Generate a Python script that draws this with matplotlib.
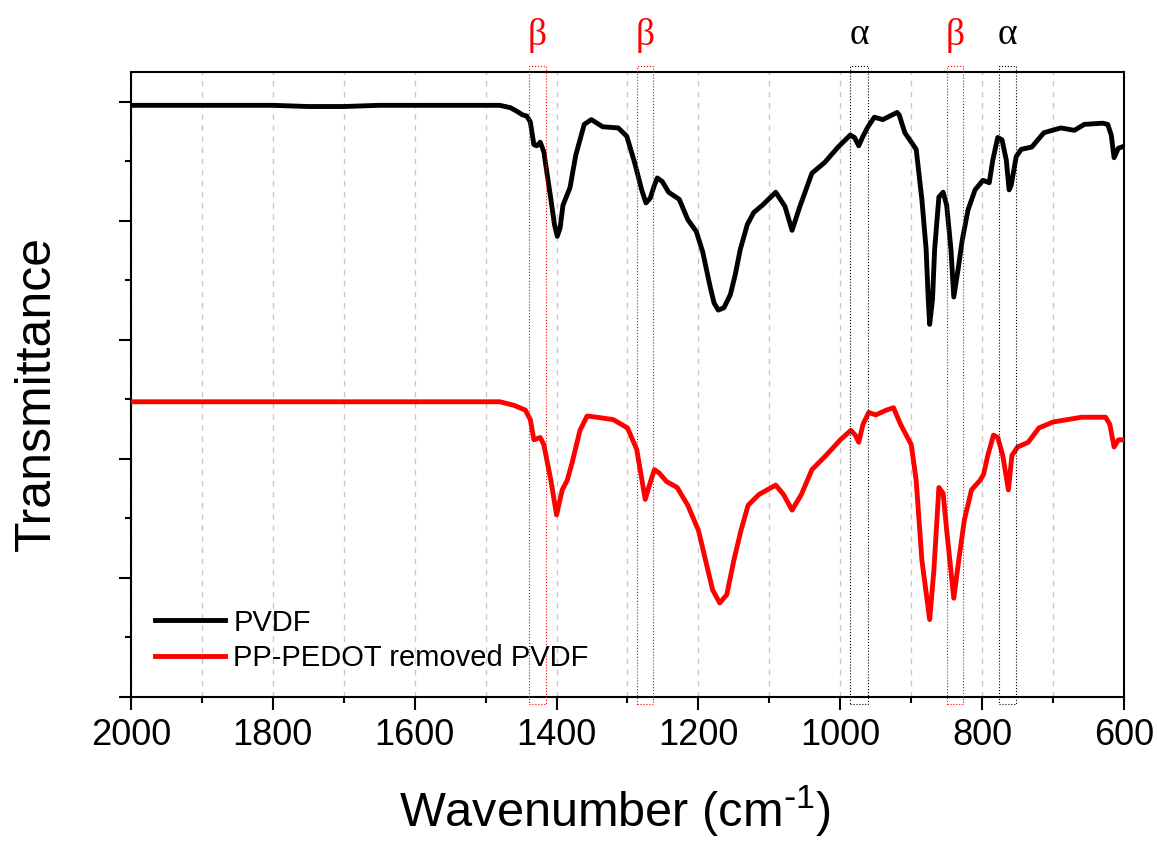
import matplotlib
matplotlib.use('Agg')
import matplotlib.pyplot as plt
import matplotlib.transforms as mtransforms
from matplotlib.patches import Rectangle

plt.rcParams['font.family'] = ['Liberation Sans', 'DejaVu Sans']
plt.rcParams['mathtext.default'] = 'regular'

#---------------------------------------------------------------
## Datos leidos del espectro (transmitancia en unidades arbitrarias)
wn_pvdf = [2000, 1900, 1800, 1750, 1700, 1650, 1600, 1550, 1500, 1480, 1465, 1456,
           1448, 1442, 1437, 1432, 1428, 1423, 1418, 1408, 1403, 1399, 1395, 1391,
           1381, 1373, 1361, 1351, 1335, 1313, 1301, 1290, 1280, 1274, 1268, 1262,
           1258, 1251, 1242, 1227, 1215, 1203, 1194, 1184, 1178, 1172, 1164, 1155,
           1148, 1141, 1131, 1122, 1110, 1091, 1078, 1068, 1057, 1040, 1022, 1003,
           986, 980, 974, 968, 961, 952, 940, 920, 917, 909, 893, 885, 879, 876,
           874, 870, 867, 861, 855, 850, 844, 840, 834, 828, 820, 810, 799, 790,
           785, 778, 772, 766, 762, 759, 752, 745, 730, 713, 689, 670, 656, 630,
           623, 618, 614, 608, 603]
t_pvdf = [4.97, 4.97, 4.97, 4.96, 4.96, 4.97, 4.97, 4.97, 4.97, 4.97, 4.95, 4.92,
          4.89, 4.88, 4.83, 4.64, 4.63, 4.66, 4.58, 4.18, 3.97, 3.87, 3.94, 4.13,
          4.28, 4.55, 4.81, 4.85, 4.79, 4.78, 4.71, 4.49, 4.26, 4.15, 4.19, 4.30,
          4.36, 4.33, 4.24, 4.18, 4.01, 3.91, 3.74, 3.46, 3.31, 3.25, 3.27, 3.38,
          3.55, 3.76, 3.97, 4.07, 4.13, 4.24, 4.12, 3.92, 4.12, 4.40, 4.49, 4.62,
          4.72, 4.70, 4.63, 4.71, 4.79, 4.87, 4.85, 4.91, 4.89, 4.74, 4.60, 4.18,
          3.76, 3.34, 3.13, 3.34, 3.76, 4.20, 4.24, 4.13, 3.76, 3.36, 3.59, 3.84,
          4.09, 4.26, 4.34, 4.32, 4.51, 4.70, 4.68, 4.51, 4.26, 4.30, 4.54, 4.60,
          4.62, 4.74, 4.78, 4.76, 4.81, 4.82, 4.81, 4.72, 4.53, 4.61, 4.62]

wn_pedot = [2000, 1900, 1800, 1700, 1600, 1500, 1480, 1460, 1444, 1437, 1432, 1423,
            1418, 1408, 1400, 1392, 1385, 1378, 1367, 1357, 1343, 1320, 1300, 1287,
            1275, 1267, 1262, 1255, 1245, 1230, 1215, 1200, 1190, 1180, 1170, 1160,
            1150, 1140, 1130, 1115, 1091, 1080, 1068, 1055, 1040, 1020, 1000, 985,
            979, 974, 968, 960, 950, 935, 925, 915, 900, 893, 885, 874, 868, 861,
            855, 850, 840, 833, 825, 815, 803, 798, 792, 784, 778, 771, 763, 758,
            750, 735, 720, 700, 680, 660, 640, 626, 620, 614, 608, 603]
t_pedot = [2.48, 2.48, 2.48, 2.48, 2.48, 2.48, 2.48, 2.45, 2.41, 2.33, 2.16, 2.18,
           2.12, 1.82, 1.53, 1.74, 1.82, 1.97, 2.24, 2.36, 2.35, 2.33, 2.26, 2.08,
           1.66, 1.82, 1.91, 1.88, 1.81, 1.76, 1.61, 1.40, 1.15, 0.90, 0.79, 0.86,
           1.15, 1.40, 1.61, 1.70, 1.78, 1.70, 1.57, 1.70, 1.91, 2.03, 2.16, 2.24,
           2.20, 2.14, 2.29, 2.39, 2.37, 2.41, 2.43, 2.29, 2.12, 1.82, 1.15, 0.65,
           1.07, 1.76, 1.71, 1.40, 0.83, 1.15, 1.49, 1.74, 1.82, 1.87, 2.03, 2.20,
           2.18, 2.03, 1.74, 2.03, 2.10, 2.14, 2.26, 2.31, 2.33, 2.35, 2.35, 2.35,
           2.29, 2.10, 2.16, 2.16]

# bandas marcadas (limites en cm-1) y su fase
bandas = [(1415, 1439), (1264, 1287), (961, 986), (827, 850), (752, 776)]
fases = ['β', 'β', 'α', 'β', 'α']
colores_fase = {'β': 'red', 'α': 'black'}

#---------------------------------------------------------------
## Figura
fig = plt.figure(figsize=(11.57, 8.41), dpi=100)
ax = fig.add_axes([0.1132, 0.1712, 0.8583, 0.7432])

ax.plot(wn_pvdf, t_pvdf, color='black', lw=3.5, label='PVDF', zorder=3,
        solid_joinstyle='round')
ax.plot(wn_pedot, t_pedot, color='red', lw=3.5, label='PP-PEDOT removed PVDF',
        zorder=3, solid_joinstyle='round')

ax.set_xlim(2000, 600)
ax.set_ylim(0, 5.25)
ax.set_xticks(range(2000, 599, -200))
ax.set_xticks(range(1900, 600, -200), minor=True)
ax.set_yticks([0, 1, 2, 3, 4, 5])
ax.set_yticks([0.5, 1.5, 2.5, 3.5, 4.5], minor=True)
ax.set_yticklabels([])
ax.tick_params(which='both', direction='out', width=1.5, top=False, right=False,
               labelsize=26, pad=6)
ax.tick_params(which='major', length=9)
ax.tick_params(which='minor', length=4.5)
for s in ax.spines.values():
    s.set_linewidth(1.5)

ax.grid(which='both', axis='x', color='#c8c8c8', ls=(0, (4, 4)), lw=1)
ax.set_axisbelow(True)

ax.set_xlabel('Wavenumber (cm$^{\\text{-}1}$)', fontsize=35)
ax.set_ylabel('Transmittance', fontsize=36)
ax.xaxis.set_label_coords(0.487, -0.138)
ax.yaxis.set_label_coords(-0.072, 0.486)

# recuadros de las bandas
trans = mtransforms.blended_transform_factory(ax.transData, ax.transAxes)
for (lo, hi), f in zip(bandas, fases):
    c = colores_fase[f]
    ax.add_patch(Rectangle((hi, -0.011), lo - hi, 1.021, transform=trans, fill=False,
                           ec=c, lw=0.8, ls=':', clip_on=False, zorder=4))
    ax.text((lo + hi) / 2, 1.059, f, transform=trans, color=c, fontsize=27,
            family=['Liberation Serif', 'DejaVu Serif'], ha='center', va='center')

ax.legend(loc='upper left', bbox_to_anchor=(0.012, 0.16), borderaxespad=0,
          frameon=False, fontsize=21, handlelength=2.4, handletextpad=0.3,
          labelspacing=0.25)

plt.savefig('out.png', dpi=100)
